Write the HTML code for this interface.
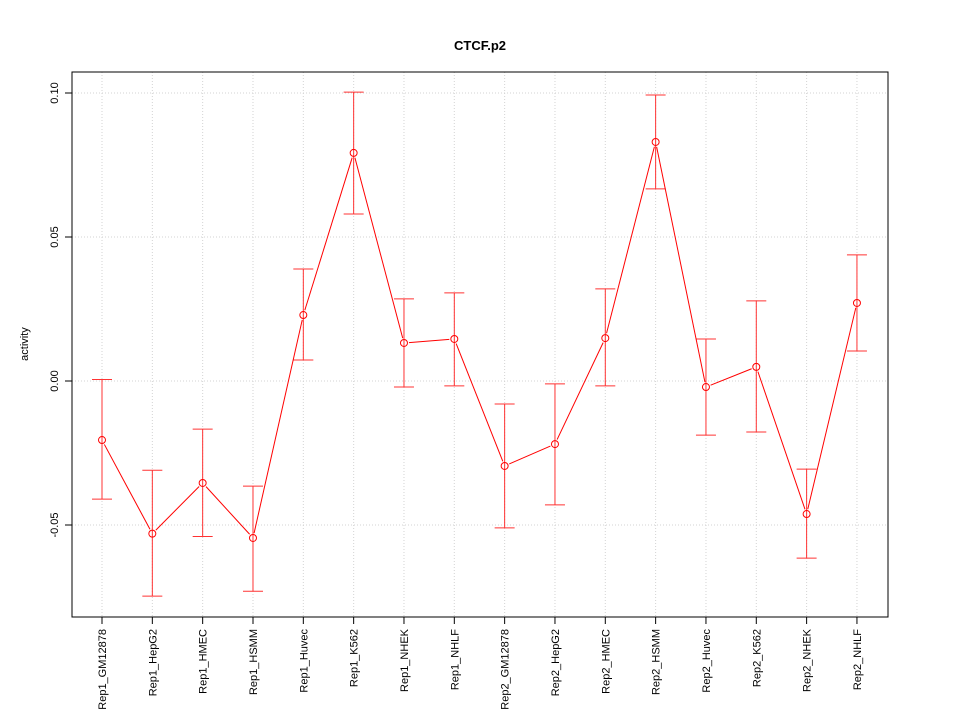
<!DOCTYPE html>
<html><head><meta charset="utf-8"><style>
body{margin:0;background:#fff}
svg{display:block;font-family:"Liberation Sans",sans-serif}
</style></head><body>
<svg id="c" width="960" height="720">
<text x="480" y="50" text-anchor="middle" font-size="13" font-weight="bold">CTCF.p2</text>
<text transform="translate(28,344) rotate(-90)" text-anchor="middle" font-size="11">activity</text>
<g id="grid"></g><g id="marks"></g><g id="axes"></g>
<rect x="72" y="72" width="816" height="545" fill="none" stroke="#000"/>
</svg>
<script>
const categories=["Rep1_GM12878","Rep1_HepG2","Rep1_HMEC","Rep1_HSMM","Rep1_Huvec","Rep1_K562","Rep1_NHEK","Rep1_NHLF","Rep2_GM12878","Rep2_HepG2","Rep2_HMEC","Rep2_HSMM","Rep2_Huvec","Rep2_K562","Rep2_NHEK","Rep2_NHLF"];
const values=[-0.0205,-0.053,-0.0354,-0.0545,0.0229,0.0792,0.0132,0.0146,-0.0295,-0.0219,0.0149,0.083,-0.0021,0.0049,-0.0462,0.0271];
const upper=[0.0005,-0.031,-0.0167,-0.0365,0.0389,0.1003,0.0285,0.0306,-0.008,-0.001,0.032,0.0993,0.0146,0.0278,-0.0306,0.0438];
const lower=[-0.041,-0.0747,-0.054,-0.073,0.0073,0.058,-0.0021,-0.0017,-0.051,-0.043,-0.0017,0.0667,-0.0188,-0.0177,-0.0615,0.0104];
const yTicks=[-0.05,0,0.05,0.1];
const yTickLabels=["-0.05","0.00","0.05","0.10"];
const NS="http://www.w3.org/2000/svg";
const x=i=>102+i*50.33;
const y=v=>381-v*2880;
function mk(p,tag,a){const e=document.createElementNS(NS,tag);for(const k in a)e.setAttribute(k,a[k]);document.getElementById(p).appendChild(e);return e;}
categories.forEach((c,i)=>{
 const g=mk('grid','line',{x1:x(i),x2:x(i),y1:72,y2:617,stroke:'#d3d3d3','stroke-dasharray':'1,2'});
 
 
 const t=mk('axes','line',{x1:x(i),x2:x(i),y1:617,y2:624,stroke:'#000'});
 
 
 const l=mk('axes','text',{transform:`translate(${x(i)+4},629) rotate(-90)`,'text-anchor':'end','font-size':'11'});
 l.textContent=c;
 
 
});
yTicks.forEach((v,i)=>{
 const g=mk('grid','line',{x1:72,x2:888,y1:y(v),y2:y(v),stroke:'#d3d3d3','stroke-dasharray':'1,2'});
 
 
 const t=mk('axes','line',{x1:65,x2:72,y1:y(v),y2:y(v),stroke:'#000'});
 
 
 const l=mk('axes','text',{transform:`translate(58,${y(v)}) rotate(-90)`,'text-anchor':'middle','font-size':'11'});
 l.textContent=yTickLabels[i];
 
 
});
values.forEach((v,i)=>{
 const e=mk('marks','path',{d:`M${x(i)},${y(upper[i])}V${y(lower[i])}M${x(i)-10},${y(upper[i])}h20M${x(i)-10},${y(lower[i])}h20`,stroke:'#f33',fill:'none'});
 
 
 if(i>0){
  const x0=x(i-1),y0=y(values[i-1]),x1=x(i),y1=y(v),d=Math.hypot(x1-x0,y1-y0),ux=(x1-x0)/d,uy=(y1-y0)/d;
  const s=mk('marks','line',{x1:x0+ux*5,y1:y0+uy*5,x2:x1-ux*5,y2:y1-uy*5,stroke:'#f00'});
  
  
 }
 const p=mk('marks','circle',{cx:x(i),cy:y(v),r:3.5,fill:'none',stroke:'#f00'});
 
 
});
</script>
</body></html>
